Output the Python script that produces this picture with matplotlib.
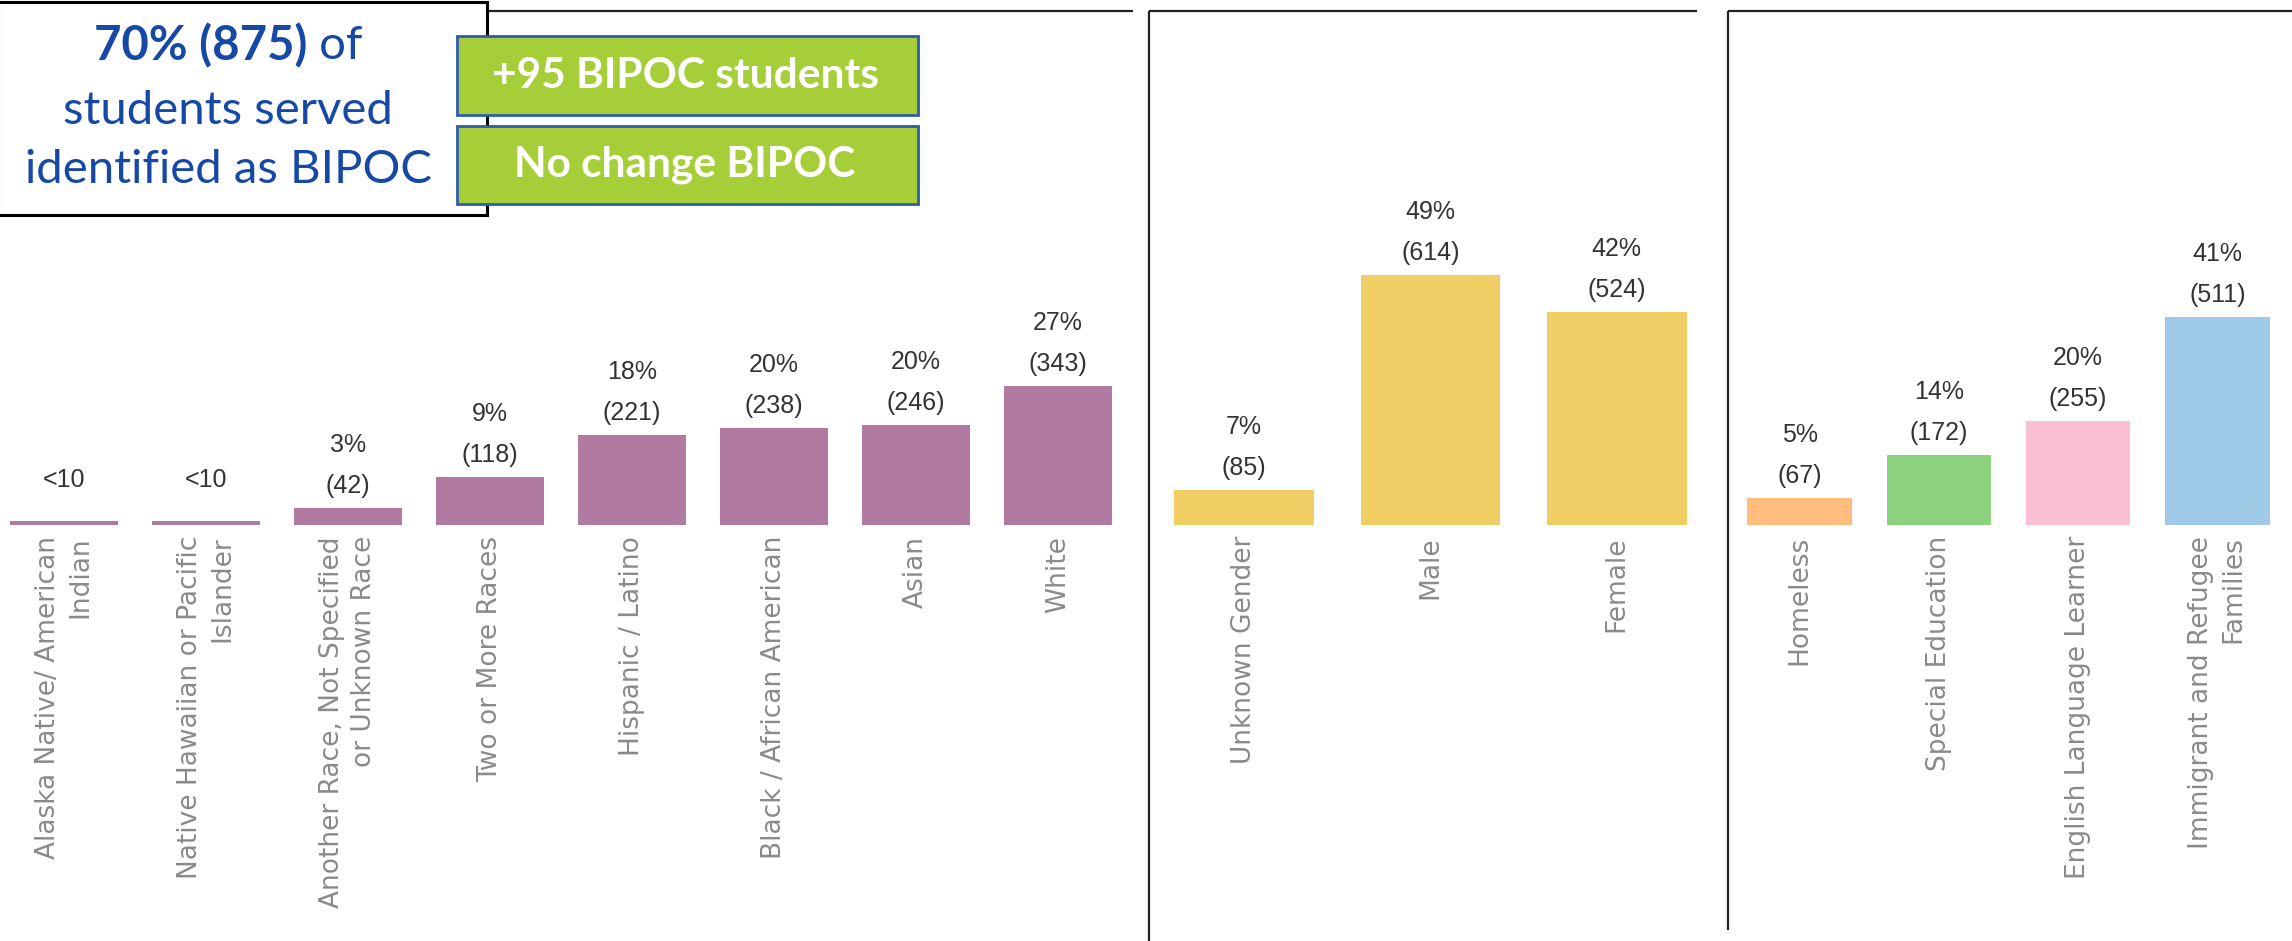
import matplotlib
matplotlib.use("Agg")
import matplotlib.pyplot as plt
from matplotlib.patches import Rectangle
from matplotlib.lines import Line2D

# student counts by group
race_names = ["Alaska Native/ American\nIndian", "Native Hawaiian or Pacific\nIslander",
              "Another Race, Not Specified\nor Unknown Race", "Two or More Races",
              "Hispanic / Latino", "Black / African American", "Asian", "White"]
race_counts = [9, 9, 42, 118, 221, 238, 246, 343]
race_pct = [None, None, 3, 9, 18, 20, 20, 27]   # None -> suppressed small group (<10)

gender_names = ["Unknown Gender", "Male", "Female"]
gender_counts = [85, 614, 524]
gender_pct = [7, 49, 42]

special_names = ["Homeless", "Special Education", "English Language Learner",
                 "Immigrant and Refugee\nFamilies"]
special_counts = [67, 172, 255, 511]
special_pct = [5, 14, 20, 41]

race_color = "#B07AA1"
gender_color = "#F1CE63"
special_colors = ["#FFBE7D", "#8CD17D", "#FABFD2", "#A0CBE8"]

W, H = 2292, 941
fig = plt.figure(figsize=(W / 100, H / 100), dpi=100)

Y_MAX = 1262
AX_TOP, AX_BOTTOM = 12, 525


def px_axes(x0, x1):
    # axes rectangle from pixel coordinates (y measured from the top)
    return [x0 / W, 1 - AX_BOTTOM / H, (x1 - x0) / W, (AX_BOTTOM - AX_TOP) / H]


def bar_panel(rect, names, counts, pcts, colors, width):
    ax = fig.add_axes(rect)
    x = list(range(len(counts)))
    bars = ax.bar(x, counts, width=width, color=colors)
    ax.set_xlim(-0.5, len(counts) - 0.5)
    ax.set_ylim(0, Y_MAX)
    for s in ax.spines.values():
        s.set_visible(False)
    ax.set_yticks([])
    ax.set_xticks(x)
    ax.set_xticklabels(names, rotation=90, ha="center", va="top",
                       multialignment="right", linespacing=1.3,
                       fontsize=19, color="#8A8A8A", family="DejaVu Sans")
    ax.tick_params(axis="x", length=0, pad=8)
    for b, n, p in zip(bars, counts, pcts):
        cx = b.get_x() + b.get_width() / 2
        top = b.get_height()
        kw = dict(xy=(cx, top), textcoords="offset pixels", ha="center", va="center",
                  fontsize=18, color="#333333", family="Liberation Sans")
        if p is None:
            ax.annotate("<10", xytext=(0, 41), **kw)
        else:
            ax.annotate(f"({n})", xytext=(0, 22), **kw)
            ax.annotate(f"{p}%", xytext=(0, 63), **kw)
    return ax


bar_panel(px_axes(-7, 1129), race_names, race_counts, race_pct, race_color, 0.76)
bar_panel(px_axes(1151, 1710), gender_names, gender_counts, gender_pct, gender_color, 0.75)
bar_panel(px_axes(1730, 2287), special_names, special_counts, special_pct, special_colors, 0.75)


def fx(x):
    return x / W


def fy(y):
    return 1 - y / H


# panel frame lines
frame = [((487, 1133), (10.7, 10.7)),
         ((1149, 1697), (10.7, 10.7)), ((1149, 1149), (10.7, 941)),
         ((1728, 2292), (10.7, 10.7)), ((1728, 1728), (10.7, 930))]
for xs, ys in frame:
    fig.add_artist(Line2D([fx(v) for v in xs], [fy(v) for v in ys],
                          color="#222222", lw=1.6, solid_capstyle="butt"))

# summary box in the top-left corner
fig.add_artist(Rectangle((fx(-2), fy(215)), fx(489), 213 / H, facecolor="white",
                         edgecolor="black", lw=2.2, zorder=5))
blue = "#1648A6"
box_font = "Lato"
box_cx = 228
fig.canvas.draw()
renderer = fig.canvas.get_renderer()
t1 = fig.text(0, fy(46), "70% (875)", fontsize=34, fontweight="bold", color=blue,
              family=box_font, ha="left", va="center", zorder=6)
t2 = fig.text(0, fy(46), " of", fontsize=34, color=blue, family=box_font,
              ha="left", va="center", zorder=6)
w1 = t1.get_window_extent(renderer).width
w2 = t2.get_window_extent(renderer).width
start = box_cx - (w1 + w2) / 2
t1.set_x(fx(start))
t2.set_x(fx(start + w1))
fig.text(fx(box_cx), fy(111), "students served", fontsize=34, color=blue, family=box_font,
         ha="center", va="center", zorder=6)
fig.text(fx(box_cx), fy(170), "identified as BIPOC", fontsize=34, color=blue, family=box_font,
         ha="center", va="center", zorder=6)

# green callout boxes
callouts = ["+95 BIPOC students", "No change BIPOC"]
for txt, (y0, y1) in zip(callouts, [(36, 115), (126, 204)]):
    fig.add_artist(Rectangle((fx(457), fy(y1)), fx(918 - 457), (y1 - y0) / H,
                             facecolor="#A6CE39", edgecolor="#2E5CA8", lw=2.0, zorder=7))
    fig.text(fx(685), fy((y0 + y1) / 2), txt, fontsize=30.5, fontweight="bold", color="white",
             family=box_font, ha="center", va="center", zorder=8)

fig.savefig("out.png", dpi=100)
